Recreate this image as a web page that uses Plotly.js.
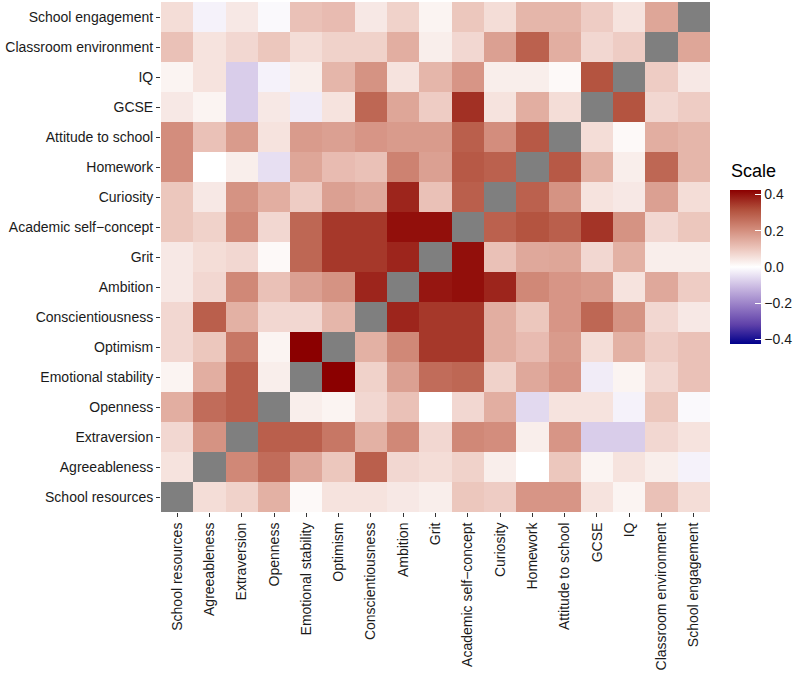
<!DOCTYPE html>
<html>
<head>
<meta charset="utf-8">
<script src="https://cdn.plot.ly/plotly-3.0.1.min.js"></script>
<style>html,body{margin:0;padding:0;background:#fff;}#chart{width:800px;height:674px;}</style>
</head>
<body>
<div id="chart"></div>
<script>
const variables = ["School resources","Agreeableness","Extraversion","Openness","Emotional stability","Optimism","Conscientiousness","Ambition","Grit","Academic self\u2212concept","Curiosity","Homework","Attitude to school","GCSE","IQ","Classroom environment","School engagement"];

// one row per variable (bottom row first), values across columns in the same order
const rowSchoolResources   = [null, 0.06, 0.08, 0.14, 0.01, 0.05, 0.05, 0.04, 0.03, 0.10, 0.09, 0.19, 0.19, 0.05, 0.02, 0.11, 0.06];
const rowAgreeableness     = [0.05, null, 0.215, 0.265, 0.155, 0.10, 0.29, 0.07, 0.06, 0.08, 0.03, 0.00, 0.10, 0.02, 0.05, 0.03, -0.02];
const rowExtraversion      = [0.07, 0.195, null, 0.29, 0.29, 0.245, 0.14, 0.215, 0.07, 0.215, 0.205, 0.03, 0.19, -0.08, -0.08, 0.07, 0.05];
const rowOpenness          = [0.145, 0.265, 0.29, null, 0.03, 0.02, 0.07, 0.11, 0.00, 0.07, 0.145, -0.06, 0.05, 0.05, -0.02, 0.10, -0.01];
const rowEmotionalStab     = [0.02, 0.145, 0.29, 0.03, null, 0.425, 0.08, 0.17, 0.265, 0.275, 0.08, 0.155, 0.19, -0.03, 0.02, 0.07, 0.11];
const rowOptimism          = [0.07, 0.10, 0.245, 0.02, 0.425, null, 0.14, 0.215, 0.35, 0.35, 0.145, 0.12, 0.18, 0.06, 0.14, 0.09, 0.11];
const rowConscientiousness = [0.07, 0.29, 0.14, 0.07, 0.07, 0.13, null, 0.375, 0.35, 0.35, 0.145, 0.10, 0.19, 0.275, 0.195, 0.07, 0.04];
const rowAmbition          = [0.04, 0.07, 0.215, 0.11, 0.17, 0.195, 0.375, null, 0.395, 0.405, 0.375, 0.215, 0.19, 0.18, 0.05, 0.155, 0.09];
const rowGrit              = [0.04, 0.06, 0.07, 0.01, 0.275, 0.35, 0.35, 0.375, null, 0.405, 0.11, 0.155, 0.16, 0.07, 0.14, 0.03, 0.03];
const rowAcademicSelf      = [0.10, 0.08, 0.215, 0.07, 0.275, 0.35, 0.35, 0.405, 0.405, null, 0.285, 0.31, 0.29, 0.355, 0.195, 0.07, 0.10];
const rowCuriosity         = [0.10, 0.04, 0.195, 0.145, 0.09, 0.17, 0.155, 0.375, 0.11, 0.29, null, 0.285, 0.195, 0.05, 0.04, 0.17, 0.06];
const rowHomework          = [0.205, 0.00, 0.03, -0.05, 0.16, 0.12, 0.11, 0.225, 0.17, 0.30, 0.285, null, 0.30, 0.14, 0.03, 0.275, 0.13];
const rowAttitude          = [0.205, 0.11, 0.18, 0.05, 0.18, 0.17, 0.19, 0.18, 0.18, 0.29, 0.205, 0.30, null, 0.06, 0.01, 0.145, 0.13];
const rowGCSE              = [0.04, 0.02, -0.08, 0.04, -0.03, 0.05, 0.275, 0.16, 0.09, 0.36, 0.05, 0.145, 0.06, null, 0.31, 0.07, 0.09];
const rowIQ                = [0.02, 0.05, -0.08, -0.02, 0.03, 0.13, 0.195, 0.05, 0.13, 0.19, 0.03, 0.03, 0.01, 0.31, null, 0.09, 0.04];
const rowClassroom         = [0.11, 0.05, 0.07, 0.10, 0.06, 0.08, 0.08, 0.145, 0.03, 0.07, 0.17, 0.285, 0.145, 0.07, 0.09, null, 0.16];
const rowEngagement        = [0.06, -0.02, 0.04, -0.01, 0.11, 0.12, 0.04, 0.08, 0.02, 0.10, 0.06, 0.13, 0.13, 0.09, 0.05, 0.16, null];

const colorbarTicks = [-0.4, -0.2, 0.0, 0.2, 0.4];
const colorbarTickText = ["\u22120.4", "\u22120.2", "0.0", "0.2", "0.4"];
const legendTitle = "Scale";

const z = [rowSchoolResources, rowAgreeableness, rowExtraversion, rowOpenness, rowEmotionalStab,
  rowOptimism, rowConscientiousness, rowAmbition, rowGrit, rowAcademicSelf, rowCuriosity,
  rowHomework, rowAttitude, rowGCSE, rowIQ, rowClassroom, rowEngagement];

const colorscale = [
  [0, "#00008B"], [0.125, "#5F41A9"], [0.25, "#977DC6"], [0.375, "#CCBCE3"],
  [0.5, "#FFFFFF"], [0.625, "#EBC3B9"], [0.75, "#D18978"], [0.875, "#B14F3B"], [1, "#8B0000"]
];

const fontFamily = "Liberation Sans, Arial, sans-serif";

const trace = {
  type: "heatmap",
  x: variables,
  y: variables,
  z: z,
  zmin: -0.425,
  zmax: 0.425,
  colorscale: colorscale,
  hoverongaps: false,
  colorbar: {
    tickvals: colorbarTicks,
    ticktext: colorbarTickText,
    tickfont: {family: fontFamily, size: 14, color: "#1a1a1a"},
    ticks: "inside",
    tickcolor: "#ffffff",
    ticklen: 6,
    tickwidth: 1,
    thickness: 31,
    thicknessmode: "pixels",
    len: 154,
    lenmode: "pixels",
    x: 1.0345,
    xanchor: "left",
    xpad: 0,
    y: 0.4804,
    yanchor: "middle",
    ypad: 0,
    outlinewidth: 0
  }
};

const axisFont = {family: fontFamily, size: 14, color: "#1a1a1a"};

const layout = {
  width: 800,
  height: 674,
  margin: {l: 161, r: 89, t: 2, b: 162, pad: 0},
  paper_bgcolor: "#ffffff",
  plot_bgcolor: "#7F7F7F",
  xaxis: {
    type: "category",
    tickangle: -90,
    tickfont: axisFont,
    ticks: "outside",
    ticklen: 4,
    tickcolor: "#333333",
    showgrid: false,
    zeroline: false,
    showline: false,
    automargin: false
  },
  yaxis: {
    type: "category",
    tickfont: axisFont,
    ticks: "outside",
    ticklen: 4,
    tickcolor: "#333333",
    showgrid: false,
    zeroline: false,
    showline: false,
    automargin: false
  },
  annotations: [{
    text: legendTitle,
    xref: "paper", yref: "paper",
    x: 1.0345, y: 0.645,
    xanchor: "left", yanchor: "bottom",
    showarrow: false,
    font: {family: fontFamily, size: 18, color: "#000000"}
  }],
  showlegend: false
};

Plotly.newPlot("chart", [trace], layout, {displayModeBar: false, staticPlot: true});
</script>
</body>
</html>
